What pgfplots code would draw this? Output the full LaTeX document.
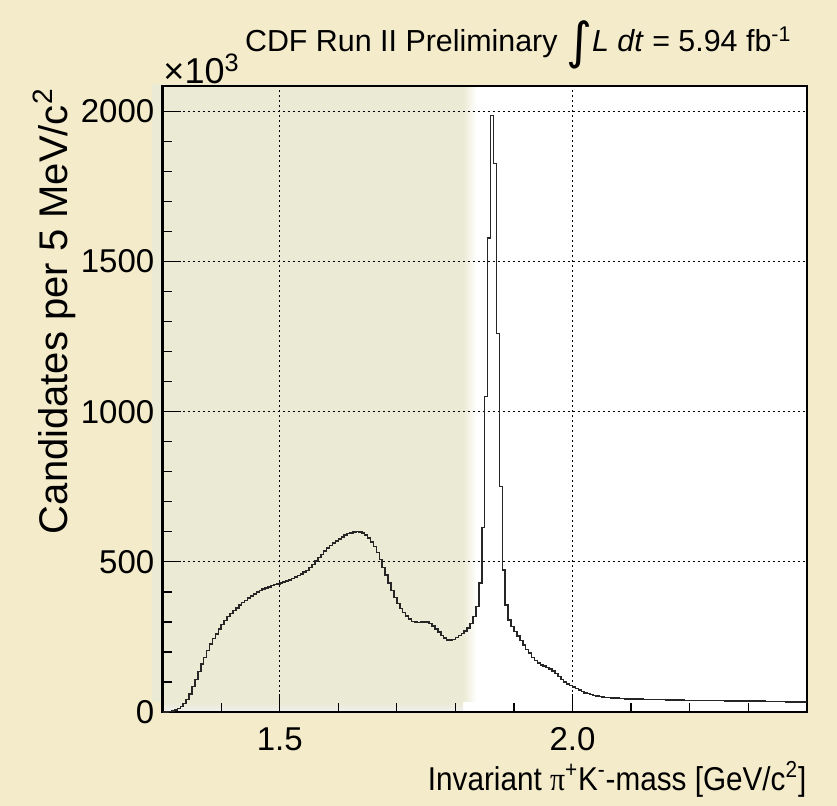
\documentclass[border=0pt]{standalone}
\usepackage{pgfplots}
\pgfplotsset{compat=1.18}
\usepackage{pgfplotstable}
\usepackage{fontspec}
\setmainfont{Liberation Sans}
\newfontfamily\symfont{Liberation Serif}
\newfontfamily\dejavu{DejaVu Sans}
\definecolor{parch}{RGB}{244,235,203}
\definecolor{khaki}{RGB}{235,234,212}

\pgfplotstableread{
x y
1.300 0
1.305 0
1.310 1
1.315 3
1.320 7
1.325 12
1.330 18
1.335 28
1.340 42
1.345 60
1.350 85
1.355 108
1.360 135
1.365 160
1.370 182
1.375 205
1.380 226
1.385 244
1.390 260
1.395 276
1.400 292
1.405 305
1.410 318
1.415 328
1.420 338
1.425 347
1.430 356
1.435 364
1.440 371
1.445 379
1.450 386
1.455 393
1.460 399
1.465 404
1.470 409
1.475 413
1.480 417
1.485 421
1.490 424
1.495 427
1.500 430
1.505 433
1.510 436
1.515 440
1.520 444
1.525 449
1.530 454
1.535 460
1.540 466
1.545 472
1.550 481
1.555 492
1.560 503
1.565 514
1.570 525
1.575 536
1.580 546
1.585 555
1.590 563
1.595 570
1.600 577
1.605 583
1.610 589
1.615 594
1.620 597
1.625 600
1.630 601
1.635 600
1.640 596
1.645 589
1.650 580
1.655 567
1.660 551
1.665 532
1.670 508
1.675 482
1.680 456
1.685 430
1.690 405
1.695 382
1.700 362
1.705 345
1.710 331
1.715 319
1.720 309
1.725 302
1.730 299
1.735 298
1.740 299
1.745 300
1.750 299
1.755 295
1.760 287
1.765 277
1.770 266
1.775 255
1.780 246
1.785 240
1.790 239
1.795 242
1.800 248
1.805 254
1.810 262
1.815 270
1.820 280
1.825 295
1.830 318
1.835 351
1.840 429
1.845 614
1.850 1050
1.855 1578
1.860 1986
1.865 1827
1.870 1260
1.875 751
1.880 473
1.885 356
1.890 307
1.895 284
1.900 268
1.905 253
1.910 238
1.915 223
1.920 209
1.925 196
1.930 182
1.935 171
1.940 163
1.945 157
1.950 153
1.955 149
1.960 144
1.965 137
1.970 129
1.975 119
1.980 109
1.985 100
1.990 93
1.995 88
2.000 83
2.005 78
2.010 73
2.015 68
2.020 64
2.025 61
2.030 58
2.035 55
2.040 53
2.045 51
2.050 50
2.055 49
2.060 48
2.065 47
2.070 46
2.075 46
2.080 45
2.085 45
2.090 44
2.095 44
2.100 44
2.105 43
2.110 43
2.115 43
2.120 42
2.125 42
2.130 42
2.135 42
2.140 41
2.145 41
2.150 41
2.155 41
2.160 40
2.165 40
2.170 40
2.175 40
2.180 40
2.185 40
2.190 39
2.195 39
2.200 39
2.205 39
2.210 39
2.215 39
2.220 39
2.225 38
2.230 38
2.235 38
2.240 38
2.245 38
2.250 38
2.255 38
2.260 37
2.265 37
2.270 37
2.275 37
2.280 37
2.285 37
2.290 37
2.295 36
2.300 36
2.305 36
2.310 36
2.315 36
2.320 36
2.325 36
2.330 35
2.335 35
2.340 35
2.345 35
2.350 35
2.355 35
2.360 35
2.365 34
2.370 34
2.375 34
2.380 34
2.385 34
2.390 34
2.395 33
2.400 33
}\hist

\begin{document}
\begin{tikzpicture}
\useasboundingbox (-81.35bp,-47bp) rectangle (337.15bp,356bp);
\fill[parch] (-81.35bp,-47bp) rectangle (337.15bp,356bp);
\fill[white] (0,0) rectangle (322bp,313bp);
\fill[khaki] (-5.35bp,5bp) rectangle (150.15bp,314bp);
\shade[left color=khaki, right color=white] (150.15bp,5bp) rectangle (157bp,313bp);
\shade[top color=khaki, bottom color=white!94!black] (0bp,0bp) rectangle (150.15bp,5bp);
\begin{axis}[
  scale only axis, width=322bp, height=313bp,
  at={(0,0)}, anchor=south west,
  xmin=1.3, xmax=2.4, ymin=0, ymax=2085,
  axis line style={line width=1.2bp, black},
  xtick={1.5,2.0}, xticklabels={1.5,2.0},
  minor xtick={1.4,1.6,1.7,1.8,1.9,2.1,2.2,2.3},
  ytick={0,500,1000,1500,2000}, yticklabels={0,500,1000,1500,2000},
  minor ytick={100,200,300,400,600,700,800,900,1100,1200,1300,1400,1600,1700,1800,1900},
  tick align=inside, xtick pos=bottom, ytick pos=left,
  major tick length=9bp, minor tick length=4.5bp,
  every tick/.style={black, line width=0.6bp},
  grid=major,
  major grid style={black, line width=0.5bp, dash pattern=on 1bp off 1.5bp},
  ticklabel style={font=\fontsize{16.5bp}{18bp}\selectfont, inner sep=0pt},
  yticklabel style={xshift=-4bp},
  xticklabel style={yshift=-7.5bp},
]
\addplot[const plot, line width=0.75bp, black!85, mark=none] table[x=x,y=y] {\hist};
\end{axis}
\node[anchor=base west, inner sep=0pt, font=\fontsize{18bp}{18bp}\selectfont] at (0.2bp,314bp) {×10\textsuperscript{3}};
\node[anchor=base west, inner sep=0pt, font=\fontsize{15.2bp}{15.2bp}\selectfont] at (41bp,330bp) {CDF Run II Preliminary {\dejavu\fontsize{25bp}{25bp}\selectfont\raisebox{-3.5bp}{∫}}\textit{L dt} = 5.94 fb\textsuperscript{-1}};
\node[anchor=base east, inner sep=0pt, font=\fontsize{16.5bp}{18bp}\selectfont] at (322bp,-39bp) {\scalebox{0.9}[1]{Invariant {\symfont π}\textsuperscript{+}K\textsuperscript{-}-mass [GeV/c\textsuperscript{2}]}};
\node[rotate=90, anchor=base east, inner sep=0pt, font=\fontsize{20bp}{20bp}\selectfont] at (-47.5bp,312bp) {Candidates per 5 MeV/c\textsuperscript{2}};
\end{tikzpicture}
\end{document}
